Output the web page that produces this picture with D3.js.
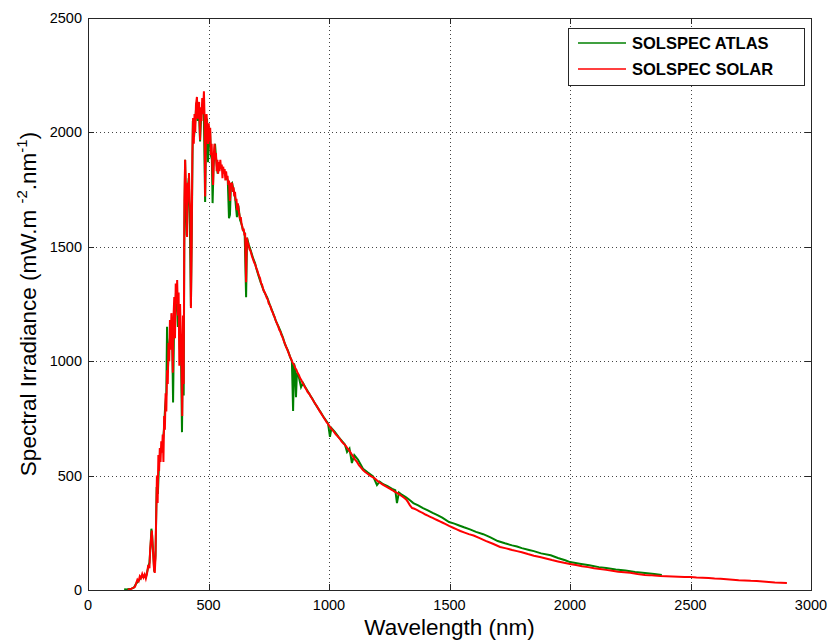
<!DOCTYPE html>
<html>
<head>
<meta charset="utf-8">
<script src="https://cdn.jsdelivr.net/npm/d3@7"></script>
<style>
  html, body { margin: 0; padding: 0; background: #fff; }
  svg { display: block; }
  text { font-family: Arial, "Liberation Sans", sans-serif; fill: #000; }
</style>
</head>
<body>
<svg id="chart" width="831" height="642"></svg>
<script>
// Axis ticks
const xTicks = [0, 500, 1000, 1500, 2000, 2500, 3000];
const yTicks = [0, 500, 1000, 1500, 2000, 2500];

// SOLSPEC ATLAS: wavelength (nm) and spectral irradiance (mW.m-2.nm-1)
const atlasWl = [
  150,160,170,180,190,200,210,220,230,240,250,255,260,263,266,270,275,280,285,290,
  295,300,305,310,315,320,325,328,331,335,340,345,350,353,357,361,365,369,373,377,
  381,385,390,394,397,400,403,406,410,414,418,422,427,431,435,440,445,450,455,460,
  465,470,475,480,486,490,494,498,502,506,510,514,517,521,527,532,538,545,552,560,
  567,575,580,585,589,593,598,604,610,618,624,631,637,643,650,656,660,667,675,685,
  693,700,710,720,730,743,755,768,780,797,810,817,830,840,846,851,855,859,863,867,
  875,884,892,900,910,921,930,940,954,965,980,996,1004,1010,1025,1040,1055,1066,1075,1085,
  1095,1105,1120,1141,1160,1183,1199,1210,1225,1241,1262,1275,1282,1290,1300,1320,1336,1350,1370,1390,
  1410,1430,1448,1470,1498,1520,1540,1560,1585,1610,1640,1670,1700,1730,1760,1780,1800,1830,1850,1880,
  1920,1950,1980,2000,2040,2080,2120,2150,2190,2230,2270,2311,2350,2381
];
const atlasIrr = [
  3,2,4,6,10,28,40,55,60,55,100,120,200,268,240,170,80,150,450,420,
  560,600,620,640,700,800,860,1150,950,1050,1100,1150,1050,820,1150,1200,1300,1250,1150,1200,
  1050,1100,690,1100,850,1600,1880,1700,1550,1750,1800,1650,1240,1600,2050,1980,2050,2130,2050,2100,
  1960,2080,2100,2120,1696,2000,2060,1870,2000,2019,1900,1880,1691,1850,1950,1880,1820,1860,1850,1840,
  1820,1800,1790,1625,1640,1770,1778,1750,1720,1630,1680,1617,1600,1573,1560,1280,1540,1510,1485,1450,
  1429,1400,1365,1335,1305,1280,1245,1210,1175,1136,1100,1075,1045,1015,1000,782,990,968,843,950,
  930,887,905,890,872,852,838,818,795,778,752,728,669,708,690,668,650,636,603,618,
  555,590,570,530,514,497,459,474,462,455,442,436,380,426,418,405,392,380,370,358,
  348,337,328,316,297,290,282,274,265,254,244,230,214,204,195,190,183,175,170,160,
  152,140,130,122,115,108,100,96,90,85,79,74,70,66
];

// SOLSPEC SOLAR: wavelength (nm) and spectral irradiance (mW.m-2.nm-1)
const solarWl = [
  165,175,185,195,200,205,210,215,220,225,230,235,240,245,250,255,258,262,265,268,
  271,274,277,280,283,286,289,292,295,298,301,304,307,310,313,316,319,322,325,328,
  331,334,337,340,343,346,349,352,355,358,361,364,367,370,373,376,379,382,385,388,
  391,394,397,400,403,406,409,411,414,417,419,422,425,427,430,433,436,439,442,445,
  448,452,455,458,461,465,468,471,474,477,481,484,486,489,492,495,498,501,504,507,
  510,513,516,519,522,525,528,531,534,537,540,543,546,549,552,555,558,561,564,567,
  570,573,576,579,582,585,589,592,595,598,601,604,607,610,613,616,619,622,625,628,
  631,634,637,640,643,646,649,652,656,659,662,666,670,675,680,685,690,694,698,702,
  706,710,714,718,722,726,730,734,738,742,746,750,754,758,762,766,770,774,778,782,
  786,790,794,798,802,806,810,814,818,822,826,830,834,838,842,846,850,855,860,865,
  870,875,880,885,890,895,900,906,912,918,924,930,936,942,948,954,960,966,972,978,
  984,990,996,1002,1008,1014,1020,1028,1036,1044,1052,1060,1068,1076,1084,1092,1100,1108,1116,1124,
  1132,1141,1150,1160,1170,1183,1192,1200,1210,1220,1230,1241,1252,1262,1272,1282,1292,1300,1310,1320,
  1328,1336,1345,1352,1360,1368,1375,1382,1390,1400,1410,1420,1430,1440,1448,1460,1470,1484,1498,1515,
  1530,1545,1560,1580,1600,1625,1650,1680,1710,1735,1760,1780,1800,1825,1850,1875,1900,1925,1950,1975,
  2000,2025,2050,2075,2100,2125,2150,2175,2200,2225,2250,2280,2311,2330,2350,2375,2400,2425,2450,2475,
  2500,2525,2550,2575,2600,2625,2650,2675,2700,2725,2750,2775,2800,2825,2850,2875,2900
];
const solarIrr = [
  2,3,8,14,30,45,38,60,52,70,55,68,50,72,110,95,180,230,260,200,
  150,90,75,140,320,500,380,590,520,620,560,650,600,680,560,760,700,860,780,960,
  900,1080,1000,1180,1050,1210,1120,950,1200,1280,1100,1340,1250,1355,1200,1300,980,1250,1120,1000,
  760,1200,900,1700,1880,1750,1680,1543,1780,1720,1822,1700,1650,1232,1500,1900,2063,1950,2080,2000,
  2120,2155,2060,2100,2133,1967,2110,2050,2150,2080,2180,2050,1720,2000,2080,2010,1950,2040,1960,2020,
  1900,1950,1850,1770,1900,1950,1880,1910,1830,1880,1820,1870,1830,1880,1840,1860,1800,1850,1820,1840,
  1790,1830,1800,1810,1770,1790,1700,1780,1760,1780,1740,1760,1720,1740,1700,1710,1660,1690,1660,1640,
  1620,1630,1600,1590,1570,1580,1550,1560,1345,1540,1520,1510,1490,1480,1460,1445,1430,1422,1408,1398,
  1384,1372,1362,1340,1335,1318,1306,1300,1288,1276,1270,1252,1246,1236,1222,1214,1202,1194,1180,1170,
  1160,1150,1136,1130,1116,1108,1096,1084,1075,1062,1054,1042,1032,1020,1012,1000,992,984,970,962,
  948,940,926,918,906,898,886,876,864,858,846,836,826,815,806,795,784,774,764,754,
  744,734,726,716,708,700,692,680,672,662,650,640,632,620,610,596,584,570,560,546,
  536,524,516,508,500,492,486,478,470,463,456,450,443,437,430,424,418,412,404,396,
  384,370,358,356,352,348,344,340,336,330,325,320,315,310,306,300,295,288,280,272,
  265,258,252,244,238,227,215,202,188,182,175,170,165,157,150,144,138,131,125,119,
  114,109,104,100,95,92,88,84,80,78,75,70,66,65,63,61,60,59,58,57,
  57,55,54,52,50,49,47,45,43,42,40,39,37,35,33,32,31
];

const legendLabels = ["SOLSPEC ATLAS", "SOLSPEC SOLAR"];
const seriesColors = ["#008000", "#ff0000"];

const svg = d3.select("#chart");
const margin = { left: 88, right: 20, top: 18, bottom: 52 };
const W = 831, H = 642;
const x0 = margin.left, x1 = W - margin.right;
const y0 = H - margin.bottom, y1 = margin.top;

const x = d3.scaleLinear().domain([0, 3000]).range([x0, x1]);
const y = d3.scaleLinear().domain([0, 2500]).range([y0, y1]);

// dotted grid
const grid = svg.append("g");
grid.selectAll("line.gx").data(xTicks.slice(1, -1)).join("line")
  .attr("x1", d => Math.round(x(d)) + 0.5).attr("x2", d => Math.round(x(d)) + 0.5)
  .attr("y1", y1).attr("y2", y0)
  .attr("stroke", "#444").attr("stroke-width", 1).attr("stroke-dasharray", "1,3");
grid.selectAll("line.gy").data(yTicks.slice(1, -1)).join("line")
  .attr("y1", d => Math.round(y(d)) + 0.5).attr("y2", d => Math.round(y(d)) + 0.5)
  .attr("x1", x0).attr("x2", x1)
  .attr("stroke", "#444").attr("stroke-width", 1).attr("stroke-dasharray", "1,3");

// data curves
svg.append("clipPath").attr("id", "plotclip").append("rect")
  .attr("x", x0).attr("y", y1).attr("width", x1 - x0).attr("height", y0 - y1);

const line = d3.line().x(d => x(d[0])).y(d => y(d[1]));
const atlas = atlasWl.map((w, i) => [w, atlasIrr[i]]);
const solar = solarWl.map((w, i) => [w, solarIrr[i]]);

const plot = svg.append("g").attr("clip-path", "url(#plotclip)");
plot.append("path").datum(atlas).attr("d", line)
  .attr("fill", "none").attr("stroke", seriesColors[0]).attr("stroke-width", 2);
plot.append("path").datum(solar).attr("d", line)
  .attr("fill", "none").attr("stroke", seriesColors[1]).attr("stroke-width", 2);

// axes box with inward ticks on all four sides
const axG = svg.append("g");
axG.append("rect").attr("x", x0 + 0.5).attr("y", y1 + 0.5)
  .attr("width", x1 - x0).attr("height", y0 - y1)
  .attr("fill", "none").attr("stroke", "#262626").attr("stroke-width", 1);

const tk = 6;
xTicks.forEach(t => {
  const px = Math.round(x(t)) + 0.5;
  axG.append("line").attr("x1", px).attr("x2", px).attr("y1", y0).attr("y2", y0 - tk).attr("stroke", "#262626");
  axG.append("line").attr("x1", px).attr("x2", px).attr("y1", y1).attr("y2", y1 + tk).attr("stroke", "#262626");
});
yTicks.forEach(t => {
  const py = Math.round(y(t)) + 0.5;
  axG.append("line").attr("y1", py).attr("y2", py).attr("x1", x0).attr("x2", x0 + tk).attr("stroke", "#262626");
  axG.append("line").attr("y1", py).attr("y2", py).attr("x1", x1).attr("x2", x1 - tk).attr("stroke", "#262626");
});

// tick labels
svg.append("g").selectAll("text").data(xTicks).join("text")
  .attr("x", d => x(d)).attr("y", y0 + 20)
  .attr("text-anchor", "middle").attr("font-size", 14.5)
  .text(d => d);
svg.append("g").selectAll("text").data(yTicks).join("text")
  .attr("x", x0 - 6).attr("y", d => y(d) + 5)
  .attr("text-anchor", "end").attr("font-size", 14.5)
  .text(d => d);

// axis titles
svg.append("text").attr("x", (x0 + x1) / 2).attr("y", 635)
  .attr("text-anchor", "middle").attr("font-size", 22.5)
  .text("Wavelength (nm)");

const yl = svg.append("text")
  .attr("transform", `translate(36, ${(y0 + y1) / 2}) rotate(-90)`)
  .attr("text-anchor", "middle").attr("font-size", 22.5);
yl.append("tspan").text("Spectral Irradiance (mW.m ");
yl.append("tspan").attr("dy", -9).attr("font-size", 15).text("-2");
yl.append("tspan").attr("dy", 9).text(".nm");
yl.append("tspan").attr("dy", -9).attr("font-size", 15).text("-1");
yl.append("tspan").attr("dy", 9).text(")");

// legend
const lg = svg.append("g");
lg.append("rect").attr("x", 568.5).attr("y", 28.5).attr("width", 236).attr("height", 57)
  .attr("fill", "#fff").attr("stroke", "#262626").attr("stroke-width", 1);
legendLabels.forEach((lab, i) => {
  const ly = 43 + i * 26;
  lg.append("line").attr("x1", 578).attr("x2", 626).attr("y1", ly).attr("y2", ly)
    .attr("stroke", seriesColors[i]).attr("stroke-width", 1.5);
  lg.append("text").attr("x", 632).attr("y", ly + 6)
    .attr("font-size", 16.5).attr("font-weight", "bold").text(lab);
});
</script>
</body>
</html>
